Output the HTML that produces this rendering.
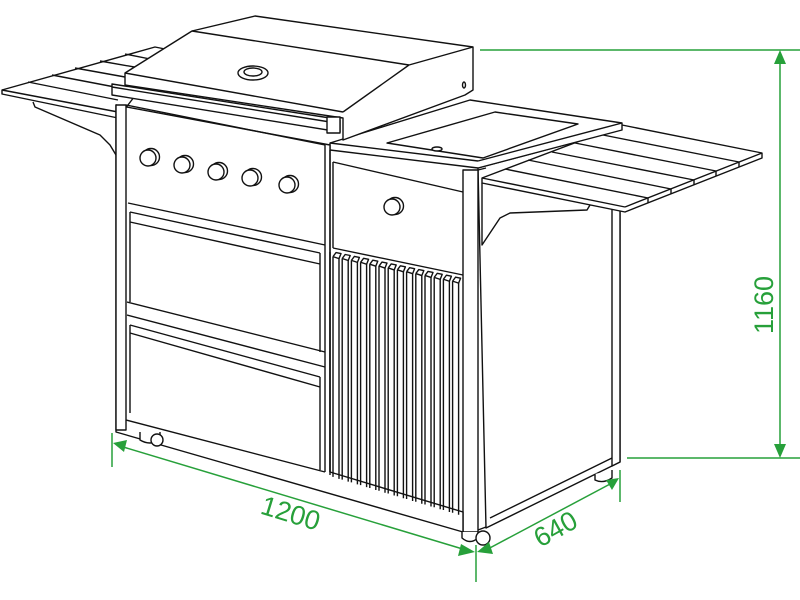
<!DOCTYPE html>
<html><head><meta charset="utf-8"><style>
html,body{margin:0;padding:0;background:#fff;width:800px;height:600px;overflow:hidden}
svg{display:block}
text{font-family:"Liberation Sans",sans-serif;fill:#27a03a;font-weight:normal}
</style></head><body>
<svg width="800" height="600" viewBox="0 0 800 600" xmlns="http://www.w3.org/2000/svg">
<g fill="#fff" stroke="#111" stroke-width="1.4" stroke-linejoin="round">
<!-- left shelf -->
<polygon points="2,90 155,47 170,50 118,118 2,94"/>
<line x1="2" y1="90" x2="118" y2="112"/>
<line x1="28" y1="82" x2="118" y2="100"/>
<line x1="52" y1="75" x2="120" y2="88"/>
<line x1="75" y1="68" x2="125" y2="77"/>
<line x1="100" y1="61" x2="140" y2="68"/>
<line x1="125" y1="54" x2="155" y2="60"/>
<path d="M33,102 L35,107 L100,135 L110,145 L116,155" fill="none"/>
<!-- right side panel -->
<polygon points="478,168 620,130 620,462 486,528"/>
<polygon points="612,190 620,190 620,462 612,466"/>
<line x1="490" y1="518" x2="612" y2="458"/>
<!-- right shelf -->
<polygon points="482,178 622,125 762,153 762,158 625,212 482,183"/>
<line x1="482" y1="178" x2="625" y2="207"/>
<line x1="625" y1="207" x2="762" y2="153"/>
<line x1="505" y1="169" x2="648" y2="198"/>
<line x1="528" y1="160" x2="671" y2="189"/>
<line x1="552" y1="152" x2="694" y2="180"/>
<line x1="575" y1="143" x2="716" y2="171"/>
<line x1="598" y1="134" x2="739" y2="162"/>
<line x1="648" y1="198" x2="648" y2="203"/>
<line x1="671" y1="189" x2="671" y2="194"/>
<line x1="694" y1="180" x2="694" y2="185"/>
<line x1="716" y1="171" x2="716" y2="176"/>
<line x1="739" y1="162" x2="739" y2="167"/>
<path d="M482,183 L482,245 L500,218 L510,213 L587,210 L590,205" fill="none"/>
<!-- counter top -->
<polygon points="330,143 470,100 622,123 622,130 478,168 330,150"/>
<line x1="330" y1="143" x2="478" y2="161"/>
<line x1="478" y1="161" x2="622" y2="123"/>
<polygon points="387,143 495,112 578,124 483,158"/>
<ellipse cx="437" cy="149" rx="5" ry="2"/>
<!-- front post right -->
<rect x="463" y="170" width="15" height="362"/>
<line x1="478" y1="170" x2="486" y2="168"/>
<line x1="478" y1="530" x2="486" y2="527"/>
<!-- main front -->
<polygon points="116,105 330,145 330,472 463,512 463,532 116,432"/>
<rect x="116" y="105" width="10" height="325"/>
<line x1="126" y1="105" x2="325" y2="145"/>
<line x1="325" y1="145" x2="325" y2="472"/>
<line x1="330" y1="150" x2="330" y2="472"/>
<line x1="126" y1="420" x2="325" y2="472"/>
<!-- left drawers -->
<line x1="128" y1="203" x2="325" y2="245"/>
<line x1="130" y1="212" x2="320" y2="253"/>
<line x1="130" y1="222" x2="320" y2="264"/>
<line x1="130" y1="212" x2="130" y2="302"/>
<line x1="320" y1="253" x2="320" y2="352"/>
<line x1="127" y1="302" x2="325" y2="352"/>
<line x1="127" y1="315" x2="325" y2="367"/>
<line x1="130" y1="325" x2="320" y2="377"/>
<line x1="130" y1="333" x2="320" y2="387"/>
<line x1="130" y1="325" x2="130" y2="413"/>
<line x1="320" y1="377" x2="320" y2="470"/>
<!-- right drawer -->
<line x1="333" y1="162" x2="463" y2="192"/>
<line x1="333" y1="162" x2="333" y2="248"/>
<line x1="333" y1="248" x2="463" y2="275"/>
<!-- louvers -->
<g id="lv">
<line x1="330" y1="252" x2="330" y2="475"/>
</g>
<!-- grill hood -->
<polygon points="125,73 192,31 255,16 473,47 473,90 465,95 343,140 343,118 125,85"/>
<line x1="192" y1="31" x2="409" y2="65"/>
<line x1="125" y1="73" x2="343" y2="112"/>
<line x1="409" y1="65" x2="473" y2="47"/>
<line x1="409" y1="65" x2="343" y2="112"/>
<polygon points="112,84 330,118 340,120 340,132 112,95"/>
<line x1="112" y1="87" x2="330" y2="122"/>
<rect x="327" y="117" width="13" height="16"/>
<ellipse cx="253" cy="73" rx="15" ry="7"/>
<ellipse cx="253" cy="72" rx="9" ry="4"/>
<ellipse cx="464" cy="85" rx="1.5" ry="3"/>
<!-- wheels -->
<path d="M140,432 L140,440 Q150,446 160,440 L160,432"/>
<circle cx="157" cy="440" r="6"/>
<path d="M462,532 L462,538 Q470,545 478,538 L478,532"/>
<circle cx="483" cy="538" r="7"/>
<path d="M595,474 L595,480 Q603,484 612,478 L612,470"/>
</g>
<g id="knobs" fill="#fff" stroke="#111" stroke-width="1.4"></g>
<g fill="none" stroke="#27a03a" stroke-width="1.5">
<line x1="480" y1="50" x2="800" y2="50"/>
<line x1="627" y1="458" x2="800" y2="458"/>
<line x1="780" y1="60" x2="780" y2="448"/>
<line x1="112" y1="433" x2="112" y2="467"/>
<line x1="476" y1="545" x2="476" y2="582"/>
<line x1="620" y1="470" x2="620" y2="502"/>
<line x1="120" y1="446" x2="466" y2="550"/>
<line x1="486" y1="550" x2="612" y2="483"/>
</g>
<g fill="#27a03a">
<polygon points="780,50 774,64 786,64"/>
<polygon points="780,458 774,444 786,444"/>
<polygon points="113,443 127,440 124,452"/>
<polygon points="475,552 461,544 458,556"/>
<polygon points="477,552 489,542 493,554"/>
<polygon points="619,478 606,480 612,490"/>
</g>
<text x="0" y="0" font-size="27" transform="translate(773,305) rotate(-90)" text-anchor="middle">1160</text>
<text x="0" y="0" font-size="27" transform="translate(288,522) rotate(17)" text-anchor="middle">1200</text>
<text x="0" y="0" font-size="27" transform="translate(560,537) rotate(-29)" text-anchor="middle">640</text>
<script>
var ns="http://www.w3.org/2000/svg";
var lv=document.getElementById("lv");
for(var i=0;i<14;i++){var x=333+i*9.2;var yt=252+(x-330)*0.205;var yb=476+(x-330)*0.3;
var l=document.createElementNS(ns,"polyline");l.setAttribute("points",(x)+","+(yt+4)+" "+(x+3)+","+(yt)+" "+(x+8)+","+(yt+1)+" "+(x+6)+","+(yt+6)+" "+x+","+(yt+4));lv.appendChild(l);
var a=document.createElementNS(ns,"line");a.setAttribute("x1",x);a.setAttribute("y1",yt+4);a.setAttribute("x2",x);a.setAttribute("y2",yb);lv.appendChild(a);
var b=document.createElementNS(ns,"line");b.setAttribute("x1",x+6);b.setAttribute("y1",yt+6);b.setAttribute("x2",x+6);b.setAttribute("y2",yb+2);lv.appendChild(b);}
var k=document.getElementById("knobs");
[[148,158],[182,165],[216,172],[250,178],[287,185],[392,207]].forEach(function(p){
var c=document.createElementNS(ns,"circle");c.setAttribute("cx",p[0]+3);c.setAttribute("cy",p[1]-1);c.setAttribute("r",8.5);k.appendChild(c);
var d=document.createElementNS(ns,"circle");d.setAttribute("cx",p[0]);d.setAttribute("cy",p[1]);d.setAttribute("r",8);k.appendChild(d);});
</script>
</svg>
</body></html>
